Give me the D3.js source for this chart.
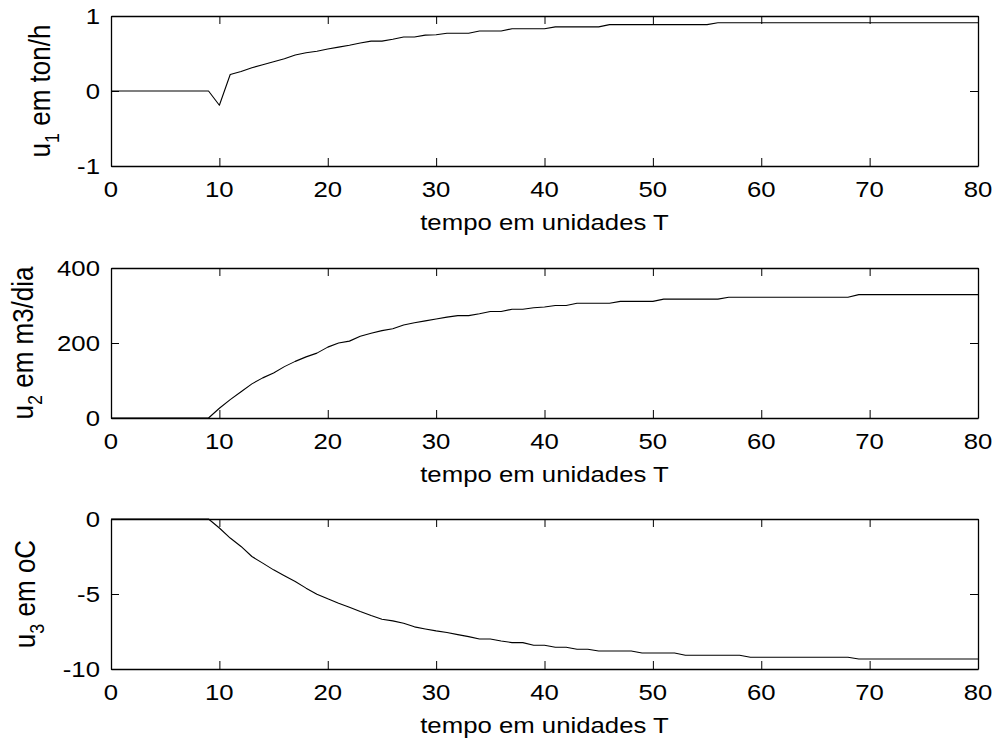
<!DOCTYPE html>
<html>
<head>
<meta charset="utf-8">
<script src="https://cdn.jsdelivr.net/npm/d3@7"></script>
<style>
  html, body { margin: 0; padding: 0; background: #fff; }
  svg { display: block; }
  text { font-family: "Liberation Sans", Arial, sans-serif; fill: #000; }
</style>
</head>
<body>
<svg id="chart" width="998" height="738"></svg>
<script>
// Sample instants (time in units of T)
const tempo = [
  0,1,2,3,4,5,6,7,8,9,10,11,12,13,14,15,16,17,18,19,20,
  21,22,23,24,25,26,27,28,29,30,31,32,33,34,35,36,37,38,39,40,
  41,42,43,44,45,46,47,48,49,50,51,52,53,54,55,56,57,58,59,60,
  61,62,63,64,65,66,67,68,69,70,71,72,73,74,75,76,77,78,79,80
];

// u1 — ton/h
const u1 = [
  0,0,0,0,0,0,0,0,0,0,-0.19,0.22,0.26,0.31,0.35,0.39,0.43,0.48,0.51,0.53,0.56,
  0.585,0.61,0.64,0.665,0.665,0.69,0.72,0.72,0.745,0.75,0.77,0.77,0.77,0.80,0.80,0.80,0.83,0.83,0.83,0.83,
  0.855,0.855,0.855,0.855,0.855,0.885,0.885,0.885,0.885,0.885,0.885,0.885,0.885,0.885,0.885,0.91,0.91,0.91,0.91,0.91,
  0.91,0.91,0.91,0.91,0.91,0.91,0.91,0.91,0.91,0.91,0.91,0.91,0.91,0.91,0.91,0.91,0.91,0.91,0.91,0.91
];

// u2 — m3/dia
const u2 = [
  0,0,0,0,0,0,0,0,0,0,26,49,70,91,107,120,137,151,163,173,189,
  200,205,218,226,233,238,248,254,259,264,269,273,273,278,284,284,290,290,294,296,
  300,300,306,306,306,306,311,311,311,311,317,317,317,317,317,317,322,322,322,322,
  322,322,322,322,322,322,322,322,329,329,329,329,329,329,329,329,329,329,329,329
];

// u3 — oC
const u3 = [
  0,0,0,0,0,0,0,0,0,0,-0.60,-1.27,-1.83,-2.50,-2.94,-3.39,-3.79,-4.17,-4.61,-5.01,-5.32,
  -5.61,-5.88,-6.17,-6.44,-6.68,-6.79,-6.95,-7.19,-7.33,-7.46,-7.57,-7.71,-7.84,-8.00,-8.00,-8.13,-8.24,-8.24,-8.42,-8.42,
  -8.55,-8.55,-8.68,-8.68,-8.80,-8.80,-8.80,-8.80,-8.93,-8.93,-8.93,-8.93,-9.08,-9.08,-9.08,-9.08,-9.08,-9.08,-9.22,-9.22,
  -9.22,-9.22,-9.22,-9.22,-9.22,-9.22,-9.22,-9.22,-9.33,-9.33,-9.33,-9.33,-9.33,-9.33,-9.33,-9.33,-9.33,-9.33,-9.33,-9.33
];

// Axis ticks and labels
const xTicks = [0,10,20,30,40,50,60,70,80];
const yTicks1 = [-1,0,1];
const yTicks2 = [0,200,400];
const yTicks3 = [-10,-5,0];
const xLabel = "tempo em unidades T";
const yLabels = [
  { main: "u", sub: "1", rest: " em ton/h" },
  { main: "u", sub: "2", rest: " em m3/dia" },
  { main: "u", sub: "3", rest: " em oC" }
];

const svg = d3.select("#chart");
const FONT = 23;     // tick / x-title font size
const YFONT = 26;    // y-title font size
const SUBFONT = 18;  // subscript font size
const SX = 1.12;     // horizontal glyph stretch
const TICK = 8;      // inward tick length

const left = 111, right = 978;
const panels = [
  { top: 16,  bottom: 166, domain: [-1, 1],   ticks: yTicks1, data: u1, label: yLabels[0], labelX: 50 },
  { top: 268, bottom: 418, domain: [0, 400],  ticks: yTicks2, data: u2, label: yLabels[1], labelX: 33 },
  { top: 519, bottom: 669, domain: [-10, 0],  ticks: yTicks3, data: u3, label: yLabels[2], labelX: 35 }
];

const x = d3.scaleLinear().domain([0, 80]).range([left, right]);

panels.forEach(p => {
  const y = d3.scaleLinear().domain(p.domain).range([p.bottom, p.top]);
  const g = svg.append("g");

  // data line
  const line = d3.line().x((d, i) => x(tempo[i])).y(d => y(d));
  g.append("path")
    .datum(p.data)
    .attr("d", line)
    .attr("fill", "none")
    .attr("stroke", "#000")
    .attr("stroke-width", 1.1)
    .attr("stroke-linejoin", "round");

  // axes with inward ticks on all four sides
  const axB = g.append("g").attr("transform", `translate(0,${p.bottom})`)
    .call(d3.axisBottom(x).tickValues(xTicks).tickSize(-TICK).tickSizeOuter(0).tickFormat(""));
  const axT = g.append("g").attr("transform", `translate(0,${p.top})`)
    .call(d3.axisTop(x).tickValues(xTicks).tickSize(-TICK).tickSizeOuter(0).tickFormat(""));
  const axL = g.append("g").attr("transform", `translate(${left},0)`)
    .call(d3.axisLeft(y).tickValues(p.ticks).tickSize(-TICK).tickSizeOuter(0).tickFormat(""));
  const axR = g.append("g").attr("transform", `translate(${right},0)`)
    .call(d3.axisRight(y).tickValues(p.ticks).tickSize(-TICK).tickSizeOuter(0).tickFormat(""));
  [axB, axT, axL, axR].forEach(a => {
    a.selectAll(".domain").attr("stroke", "#000").attr("stroke-width", 1.3);
    a.selectAll(".tick line").attr("stroke", "#000").attr("stroke-width", 1);
  });

  // x tick labels
  xTicks.forEach(v => {
    g.append("text")
      .attr("transform", `translate(${x(v)},${p.bottom + 30.5}) scale(${SX},1)`)
      .attr("text-anchor", "middle")
      .attr("font-size", FONT)
      .text(v);
  });

  // y tick labels
  p.ticks.forEach(v => {
    g.append("text")
      .attr("transform", `translate(${left - 11},${y(v) + 8}) scale(${SX},1)`)
      .attr("text-anchor", "end")
      .attr("font-size", FONT)
      .text(v);
  });

  // x axis title
  g.append("text")
    .attr("transform", `translate(${(left + right) / 2},${p.bottom + 63.5}) scale(${SX},1)`)
    .attr("text-anchor", "middle")
    .attr("font-size", FONT)
    .text(xLabel);

  // y axis title with subscript
  const yt = g.append("text")
    .attr("transform", `translate(${p.labelX},${(p.top + p.bottom) / 2}) scale(${SX},1) rotate(-90)`)
    .attr("text-anchor", "middle")
    .attr("font-size", YFONT);
  yt.append("tspan").text(p.label.main);
  yt.append("tspan").attr("font-size", SUBFONT).attr("dy", 8).text(p.label.sub);
  yt.append("tspan").attr("dy", -8).text(p.label.rest);
});
</script>
</body>
</html>
